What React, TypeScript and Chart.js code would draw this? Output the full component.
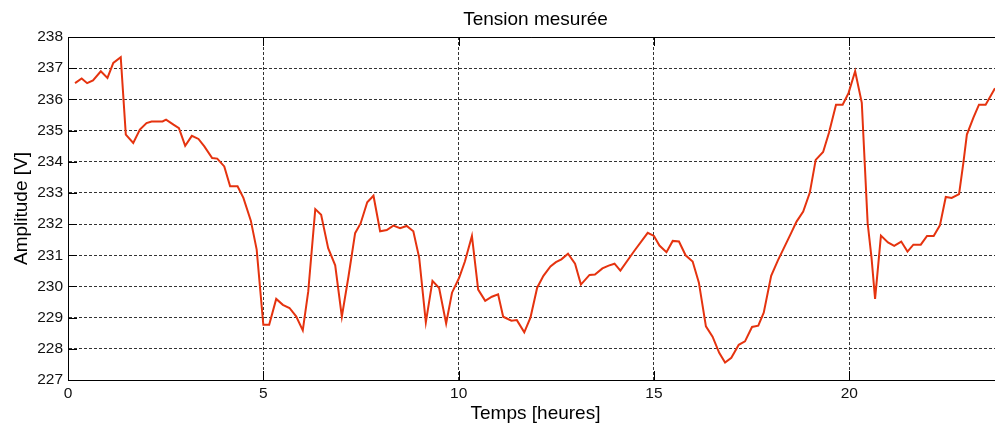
import React, { useEffect, useRef } from "react";
import { Chart, registerables } from "chart.js";

Chart.register(...registerables);

const hours = [
  0.18, 0.35, 0.49, 0.64, 0.84, 1.01, 1.16, 1.35, 1.48, 1.67, 1.84, 2.01, 2.14, 2.42, 2.51, 2.7, 2.84,
  3.0, 3.17, 3.34, 3.49, 3.69, 3.82, 4.0, 4.15, 4.34, 4.49, 4.68, 4.83, 5.0, 5.15, 5.33, 5.5, 5.67,
  5.84, 6.01, 6.15, 6.33, 6.48, 6.66, 6.84, 7.01, 7.18, 7.35, 7.49, 7.66, 7.82, 7.99, 8.16, 8.33, 8.5,
  8.67, 8.84, 8.99, 9.16, 9.33, 9.5, 9.68, 9.83, 10.01, 10.16, 10.34, 10.5, 10.68, 10.85, 11.01, 11.14,
  11.35, 11.49, 11.68, 11.84, 12.01, 12.17, 12.35, 12.49, 12.63, 12.8, 12.98, 13.13, 13.35, 13.49,
  13.68, 13.84, 13.99, 14.14, 14.49, 14.84, 15.0, 15.14, 15.32, 15.48, 15.64, 15.81, 15.99, 16.15,
  16.33, 16.5, 16.67, 16.82, 16.98, 17.17, 17.33, 17.51, 17.67, 17.81, 18.0, 18.17, 18.34, 18.51,
  18.65, 18.82, 18.99, 19.14, 19.33, 19.48, 19.66, 19.83, 19.98, 20.15, 20.32, 20.47, 20.57, 20.66,
  20.81, 20.99, 21.15, 21.33, 21.49, 21.64, 21.83, 21.99, 22.16, 22.32, 22.47, 22.62, 22.81, 22.92,
  23.01, 23.18, 23.32, 23.49, 23.73,
];

const voltage = [
  236.52, 236.67, 236.52, 236.61, 236.9, 236.69, 237.17, 237.35, 234.87, 234.6, 235.03, 235.24, 235.29,
  235.29, 235.35, 235.19, 235.08, 234.51, 234.83, 234.73, 234.49, 234.12, 234.1, 233.85, 233.21, 233.21,
  232.84, 232.11, 231.18, 228.77, 228.77, 229.6, 229.41, 229.31, 229.04, 228.59, 229.84, 232.48, 232.3,
  231.23, 230.68, 229.03, 230.32, 231.71, 232.02, 232.7, 232.91, 231.77, 231.81, 231.95, 231.87, 231.94,
  231.77, 230.92, 228.85, 230.18, 229.95, 228.81, 229.8, 230.27, 230.8, 231.62, 229.9, 229.54, 229.67,
  229.75, 229.03, 228.9, 228.92, 228.53, 229.01, 229.96, 230.34, 230.64, 230.78, 230.87, 231.05, 230.73,
  230.06, 230.37, 230.38, 230.58, 230.67, 230.73, 230.51, 231.13, 231.72, 231.62, 231.31, 231.1, 231.46,
  231.44, 231.0, 230.8, 230.12, 228.72, 228.39, 227.87, 227.56, 227.71, 228.13, 228.24, 228.7, 228.74,
  229.16, 230.34, 230.83, 231.27, 231.71, 232.08, 232.4, 233.01, 234.06, 234.31, 234.93, 235.83, 235.83,
  236.2, 236.9, 235.89, 232.03, 230.91, 229.6, 231.63, 231.41, 231.3, 231.44, 231.12, 231.34, 231.34,
  231.62, 231.62, 231.96, 232.87, 232.84, 232.96, 233.96, 234.87, 235.42, 235.83, 235.83, 236.36,
];

const xMin = 0;
const xMax = 23.73;
const xStep = 5;
const yMin = 227;
const yMax = 238;
const yStep = 1;

const titleText = "Tension mesurée";
const xLabel = "Temps [heures]";
const yLabel = "Amplitude [V]";

const FONT = "'Liberation Sans', Arial, sans-serif";

const decorPlugin = {
  id: "decor",
  afterDraw(chart: any) {
    const { ctx, chartArea } = chart;
    const { left, right, top, bottom } = chartArea;
    const xs = chart.scales.x;
    const ys = chart.scales.y;
    ctx.save();
    ctx.strokeStyle = "#000";
    ctx.lineWidth = 1;
    ctx.setLineDash([]);
    ctx.beginPath();
    ctx.moveTo(left, Math.round(top) + 0.5);
    ctx.lineTo(right, Math.round(top) + 0.5);
    ctx.stroke();
    const tl = 9;
    xs.ticks.forEach((t: any) => {
      const px = Math.round(xs.getPixelForValue(t.value)) + 0.5;
      ctx.beginPath();
      ctx.moveTo(px, bottom);
      ctx.lineTo(px, bottom - tl);
      ctx.moveTo(px, top);
      ctx.lineTo(px, top + tl);
      ctx.stroke();
    });
    ys.ticks.forEach((t: any) => {
      const py = Math.round(ys.getPixelForValue(t.value)) + 0.5;
      ctx.beginPath();
      ctx.moveTo(left, py);
      ctx.lineTo(left + tl, py);
      ctx.stroke();
    });
    ctx.fillStyle = "#000";
    ctx.font = `19px ${FONT}`;
    ctx.textAlign = "center";
    ctx.textBaseline = "alphabetic";
    const cx = 535.5;
    ctx.fillText(titleText, cx, 25);
    ctx.fillText(xLabel, cx, 419);
    ctx.save();
    ctx.translate(27, (top + bottom) / 2);
    ctx.rotate(-Math.PI / 2);
    ctx.fillText(yLabel, 0, 0);
    ctx.restore();
    ctx.restore();
  },
};

export default function App() {
  const canvasRef = useRef<HTMLCanvasElement | null>(null);

  useEffect(() => {
    document.body.style.margin = "0";
    const canvas = canvasRef.current;
    if (!canvas) return;
    const points = hours.map((h, i) => ({ x: h, y: voltage[i] }));
    const chart = new Chart(canvas, {
      type: "line",
      data: {
        datasets: [
          {
            data: points,
            borderColor: "#e5330f",
            borderWidth: 2,
            pointRadius: 0,
            tension: 0,
            fill: false,
          },
        ],
      },
      options: {
        animation: false,
        responsive: true,
        maintainAspectRatio: false,
        devicePixelRatio: 1,
        layout: { padding: { top: 37, left: 0, right: 0, bottom: 0 } },
        plugins: {
          legend: { display: false },
          title: { display: false },
          tooltip: { enabled: false },
        },
        scales: {
          x: {
            type: "linear",
            min: xMin,
            max: xMax,
            ticks: {
              stepSize: xStep,
              includeBounds: false,
              padding: 4,
              color: "#111",
              font: { family: FONT, size: 15.5 },
              maxRotation: 0,
            },
            grid: { color: "#333", lineWidth: 1, drawTicks: false },
            border: { display: true, color: "#000", width: 1, dash: [3, 2] },
            afterFit(scale: any) {
              scale.height = 46;
            },
          },
          y: {
            type: "linear",
            min: yMin,
            max: yMax,
            ticks: {
              stepSize: yStep,
              padding: 5,
              color: "#111",
              font: { family: FONT, size: 15.5 },
            },
            grid: { color: "#333", lineWidth: 1, drawTicks: false },
            border: { display: true, color: "#000", width: 1, dash: [3, 2] },
            afterFit(scale: any) {
              scale.width = 68;
            },
          },
        },
      },
      plugins: [decorPlugin],
    });
    return () => chart.destroy();
  }, []);

  return (
    <div style={{ width: 995, height: 426, position: "relative", background: "#fff" }}>
      <canvas ref={canvasRef} />
    </div>
  );
}
